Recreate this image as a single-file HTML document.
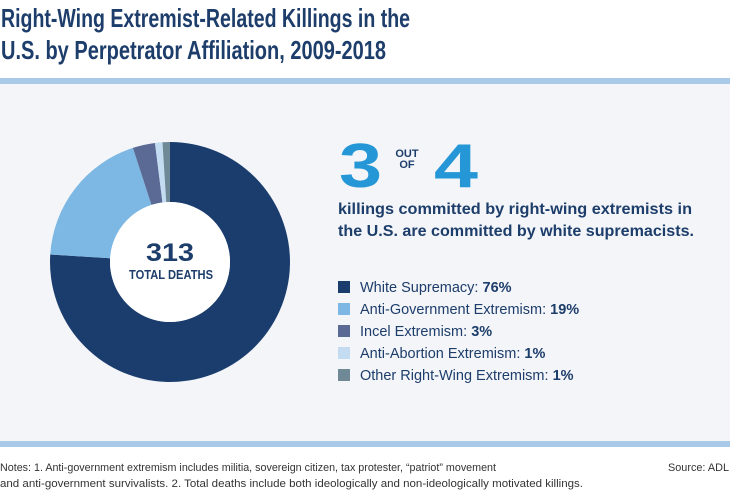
<!DOCTYPE html>
<html><head><meta charset="utf-8"><style>
html,body{margin:0;padding:0;background:#fff}
svg{display:block}
text{font-family:"Liberation Sans",sans-serif}
</style></head><body>
<svg id="chart" width="730" height="494" viewBox="0 0 730 494">
<rect x="0" y="84" width="730" height="357" fill="#f3f5f8"/>
<rect x="0" y="78" width="730" height="6" fill="#a8c9e8"/>
<rect x="0" y="441" width="730" height="6" fill="#a8c9e8"/>
<text x="1" y="27" font-size="26" font-weight="bold" fill="#1d3d6b" textLength="409" lengthAdjust="spacingAndGlyphs">Right-Wing Extremist-Related Killings in the</text>
<text x="1" y="59" font-size="26" font-weight="bold" fill="#1d3d6b" textLength="385" lengthAdjust="spacingAndGlyphs">U.S. by Perpetrator Affiliation, 2009-2018</text>
<g id="donut"></g>
<text x="170" y="261" font-size="25" font-weight="bold" fill="#1d3d6b" text-anchor="middle" textLength="48" lengthAdjust="spacingAndGlyphs">313</text>
<text x="171" y="279" font-size="13" font-weight="bold" fill="#1d3d6b" text-anchor="middle" textLength="84" lengthAdjust="spacingAndGlyphs">TOTAL DEATHS</text>
<text x="339" y="187" font-size="62" font-weight="bold" fill="#2597d6" textLength="43" lengthAdjust="spacingAndGlyphs">3</text>
<text x="407" y="157" font-size="11" font-weight="bold" fill="#1d3d6b" text-anchor="middle">OUT</text>
<text x="407" y="168" font-size="11" font-weight="bold" fill="#1d3d6b" text-anchor="middle">OF</text>
<text x="434" y="187" font-size="62" font-weight="bold" fill="#2597d6" textLength="44" lengthAdjust="spacingAndGlyphs">4</text>
<text x="338" y="214" font-size="16" font-weight="bold" fill="#1d3d6b" textLength="354" lengthAdjust="spacingAndGlyphs">killings committed by right-wing extremists in</text>
<text x="338" y="236" font-size="16" font-weight="bold" fill="#1d3d6b" textLength="356" lengthAdjust="spacingAndGlyphs">the U.S. are committed by white supremacists.</text>
<g id="legend"></g>
<text x="0" y="471" font-size="11" fill="#333" textLength="496" lengthAdjust="spacingAndGlyphs">Notes: 1. Anti-government extremism includes militia, sovereign citizen, tax protester, “patriot” movement</text>
<text x="0" y="487" font-size="11" fill="#333" textLength="583" lengthAdjust="spacingAndGlyphs">and anti-government survivalists. 2. Total deaths include both ideologically and non-ideologically motivated killings.</text>
<text x="729" y="471" font-size="11" fill="#333" text-anchor="end" textLength="61" lengthAdjust="spacingAndGlyphs">Source: ADL</text>
</svg>
<script>
const categories = ["White Supremacy","Anti-Government Extremism","Incel Extremism","Anti-Abortion Extremism","Other Right-Wing Extremism"];
const values = [76, 19, 3, 1, 1];
const labels = ["76%","19%","3%","1%","1%"];
const colors = ["#1b3d6e","#7db7e3","#5a6a94","#c3dcf1","#6f8a96"];
const NS = "http://www.w3.org/2000/svg";
const cx = 170, cy = 262, R = 120, r = 60;
const total = values.reduce((a,b)=>a+b,0);
const donut = document.getElementById('donut');
function pt(ang, rad){ return [cx + rad*Math.sin(ang), cy - rad*Math.cos(ang)]; }
let a0 = 0;
values.forEach((v,i)=>{
  const a1 = a0 + v/total*2*Math.PI;
  const large = (a1-a0) > Math.PI ? 1 : 0;
  const p1 = pt(a0,R), p2 = pt(a1,R), p3 = pt(a1,r), p4 = pt(a0,r);
  const p = document.createElementNS(NS,'path');
  p.setAttribute('d', `M${p1[0]},${p1[1]} A${R},${R} 0 ${large} 1 ${p2[0]},${p2[1]} L${p3[0]},${p3[1]} A${r},${r} 0 ${large} 0 ${p4[0]},${p4[1]} Z`);
  p.setAttribute('fill', colors[i]);
  
  
  donut.appendChild(p);
  a0 = a1;
});
const circ = document.createElementNS(NS,'circle');
circ.setAttribute('cx', cx); circ.setAttribute('cy', cy); circ.setAttribute('r', r);
circ.setAttribute('fill', '#ffffff');


donut.appendChild(circ);
const legend = document.getElementById('legend');
categories.forEach((c,i)=>{
  const y = 287 + i*22;
  const g = document.createElementNS(NS,'g');
  
  
  const s = document.createElementNS(NS,'rect');
  s.setAttribute('x', 338); s.setAttribute('y', y-6); s.setAttribute('width', 12); s.setAttribute('height', 12);
  s.setAttribute('fill', colors[i]);
  
  
  const t = document.createElementNS(NS,'text');
  t.setAttribute('x', 360); t.setAttribute('y', y+5);
  t.setAttribute('font-size', '14.5'); t.setAttribute('fill', '#1d3d6b');
  
  
  t.textContent = c + ': ';
  const b = document.createElementNS(NS,'tspan');
  b.setAttribute('font-weight', 'bold');
  b.textContent = labels[i];
  t.appendChild(b);
  g.appendChild(s); g.appendChild(t);
  legend.appendChild(g);
});
</script>
</body></html>
